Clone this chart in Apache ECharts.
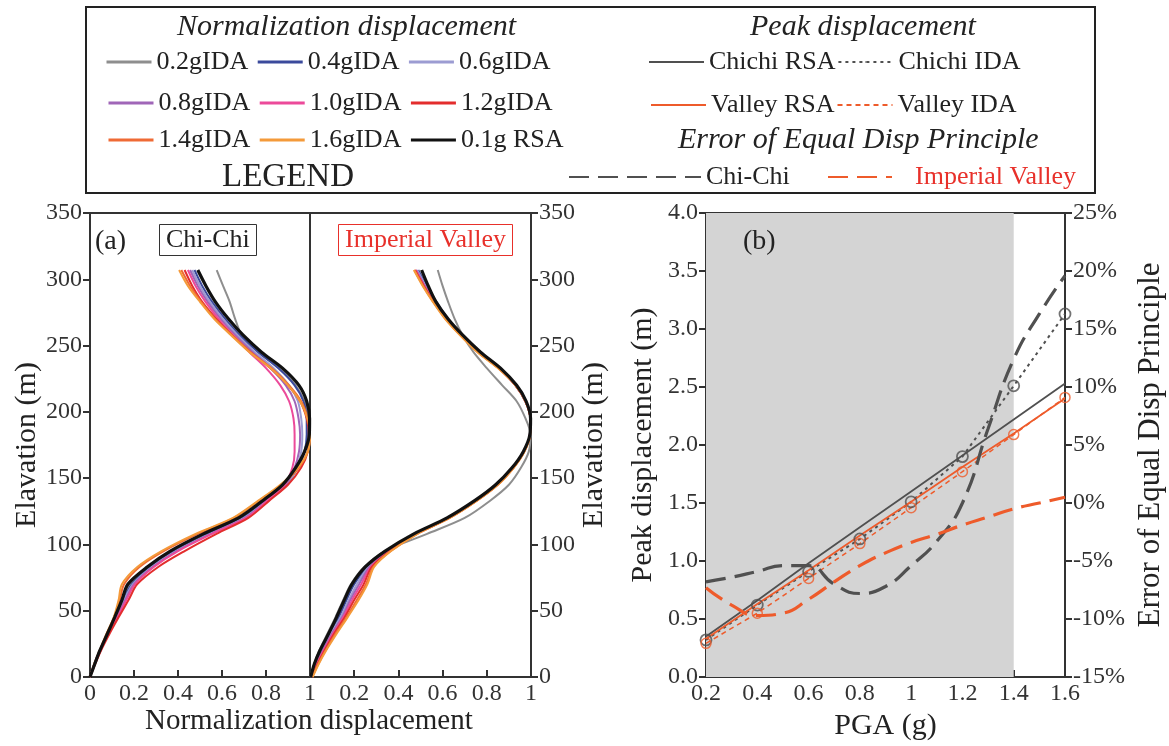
<!DOCTYPE html>
<html><head><meta charset="utf-8">
<script src="https://cdn.jsdelivr.net/npm/echarts@6/dist/echarts.min.js"></script>
<style>html,body{margin:0;padding:0;background:#fff}#c{width:1169px;height:746px}</style>
</head><body><div id="c"></div>
<script>
// ---------- DATA ----------
const elevations = [0, 10, 20, 33, 45, 58, 70, 83, 95, 108, 120, 133, 145, 158, 170, 183, 195, 208, 220, 233, 245, 258, 270, 283, 295, 307];
const curveNames = ['0.2gIDA','0.4gIDA','0.6gIDA','0.8gIDA','1.0gIDA','1.2gIDA','1.4gIDA','1.6gIDA','0.1g RSA'];
const curveColors = ['#8e8e8e','#3b4a9c','#9c9cd2','#a066b8','#ec4a9a','#e32d2d','#ef6a35','#f49a3a','#111111'];

// (a) Chi-Chi normalized displacement, one value per elevation
const cc02 = [0, 0.022, 0.045, 0.08, 0.115, 0.15, 0.18, 0.27, 0.38, 0.535, 0.69, 0.79, 0.88, 0.94, 0.975, 0.99, 0.995, 0.975, 0.935, 0.86, 0.765, 0.69, 0.66, 0.635, 0.605, 0.576];
const cc04 = [0, 0.02, 0.045, 0.08, 0.115, 0.15, 0.19, 0.275, 0.385, 0.54, 0.695, 0.8, 0.89, 0.945, 0.975, 0.985, 0.985, 0.97, 0.93, 0.855, 0.765, 0.68, 0.615, 0.555, 0.51, 0.475];
const cc06 = [0, 0.02, 0.045, 0.082, 0.12, 0.155, 0.195, 0.28, 0.39, 0.545, 0.7, 0.805, 0.895, 0.94, 0.96, 0.965, 0.96, 0.945, 0.905, 0.835, 0.75, 0.67, 0.605, 0.545, 0.5, 0.465];
const cc08 = [0, 0.02, 0.045, 0.082, 0.122, 0.16, 0.2, 0.285, 0.395, 0.55, 0.705, 0.805, 0.89, 0.93, 0.95, 0.955, 0.948, 0.93, 0.89, 0.82, 0.74, 0.66, 0.595, 0.535, 0.49, 0.455];
const cc10 = [0, 0.022, 0.048, 0.085, 0.125, 0.165, 0.205, 0.29, 0.4, 0.555, 0.71, 0.805, 0.885, 0.92, 0.93, 0.93, 0.925, 0.905, 0.865, 0.8, 0.725, 0.65, 0.585, 0.525, 0.48, 0.445];
const cc12 = [0, 0.024, 0.05, 0.09, 0.13, 0.175, 0.215, 0.31, 0.43, 0.575, 0.72, 0.815, 0.9, 0.96, 0.99, 0.995, 0.985, 0.955, 0.9, 0.82, 0.73, 0.645, 0.575, 0.51, 0.465, 0.43];
const cc14 = [0, 0.02, 0.045, 0.078, 0.11, 0.135, 0.155, 0.225, 0.335, 0.49, 0.655, 0.77, 0.87, 0.95, 0.99, 1.0, 0.99, 0.96, 0.905, 0.825, 0.73, 0.645, 0.57, 0.505, 0.455, 0.415];
const cc16 = [0, 0.02, 0.044, 0.076, 0.108, 0.13, 0.145, 0.215, 0.325, 0.48, 0.65, 0.765, 0.865, 0.945, 0.99, 1.0, 0.988, 0.955, 0.9, 0.82, 0.725, 0.64, 0.565, 0.5, 0.445, 0.405];
const ccRSA = [0, 0.022, 0.045, 0.08, 0.112, 0.145, 0.172, 0.26, 0.365, 0.515, 0.675, 0.785, 0.875, 0.935, 0.975, 0.997, 0.998, 0.985, 0.95, 0.875, 0.78, 0.695, 0.63, 0.57, 0.527, 0.49];

// (a) Imperial Valley normalized displacement
const iv02 = [0, 0.02, 0.042, 0.08, 0.115, 0.15, 0.185, 0.245, 0.34, 0.53, 0.7, 0.815, 0.9, 0.955, 0.99, 0.998, 0.975, 0.935, 0.87, 0.8, 0.74, 0.69, 0.655, 0.625, 0.6, 0.578];
const iv04 = [0.005, 0.025, 0.05, 0.09, 0.13, 0.165, 0.2, 0.26, 0.35, 0.475, 0.625, 0.75, 0.845, 0.92, 0.968, 0.995, 0.997, 0.975, 0.93, 0.857, 0.768, 0.688, 0.625, 0.572, 0.528, 0.49];
const iv06 = [0.005, 0.028, 0.055, 0.095, 0.138, 0.175, 0.212, 0.265, 0.355, 0.478, 0.627, 0.752, 0.847, 0.92, 0.968, 0.995, 0.997, 0.975, 0.93, 0.855, 0.766, 0.686, 0.622, 0.568, 0.524, 0.485];
const iv08 = [0.006, 0.03, 0.058, 0.1, 0.145, 0.182, 0.222, 0.27, 0.357, 0.48, 0.628, 0.752, 0.847, 0.92, 0.968, 0.995, 0.997, 0.975, 0.93, 0.855, 0.765, 0.685, 0.62, 0.565, 0.52, 0.48];
const iv10 = [0.007, 0.032, 0.062, 0.105, 0.15, 0.19, 0.232, 0.275, 0.36, 0.482, 0.63, 0.753, 0.848, 0.92, 0.968, 0.995, 0.997, 0.975, 0.93, 0.853, 0.763, 0.683, 0.618, 0.562, 0.517, 0.478];
const iv12 = [0.008, 0.035, 0.066, 0.11, 0.157, 0.2, 0.243, 0.28, 0.362, 0.483, 0.63, 0.753, 0.848, 0.92, 0.968, 0.995, 0.997, 0.975, 0.93, 0.852, 0.762, 0.682, 0.616, 0.56, 0.515, 0.475];
const iv14 = [0.01, 0.038, 0.07, 0.117, 0.165, 0.212, 0.253, 0.287, 0.365, 0.485, 0.632, 0.755, 0.85, 0.922, 0.97, 0.996, 0.997, 0.975, 0.93, 0.852, 0.76, 0.68, 0.614, 0.558, 0.512, 0.472];
const iv16 = [0.012, 0.04, 0.073, 0.122, 0.17, 0.22, 0.26, 0.29, 0.367, 0.486, 0.632, 0.755, 0.85, 0.922, 0.97, 0.996, 0.997, 0.975, 0.93, 0.85, 0.758, 0.678, 0.612, 0.556, 0.51, 0.47];
const ivRSA = [0.003, 0.02, 0.045, 0.085, 0.12, 0.155, 0.19, 0.25, 0.34, 0.47, 0.62, 0.745, 0.84, 0.915, 0.965, 0.995, 0.998, 0.978, 0.935, 0.862, 0.772, 0.69, 0.625, 0.57, 0.535, 0.505];

const chichiCurves = [cc02, cc04, cc06, cc08, cc10, cc12, cc14, cc16, ccRSA];
const valleyCurves = [iv02, iv04, iv06, iv08, iv10, iv12, iv14, iv16, ivRSA];

// (b) Peak displacement (m) vs PGA (g)
const pga = [0.2, 0.4, 0.6, 0.8, 1.0, 1.2, 1.4, 1.6];
const chichiRSA = [0.35, 0.66, 0.98, 1.29, 1.60, 1.91, 2.22, 2.53];
const chichiIDA = [0.32, 0.62, 0.91, 1.19, 1.51, 1.90, 2.51, 3.13];
const valleyRSA = [0.33, 0.63, 0.92, 1.22, 1.51, 1.81, 2.10, 2.40];
const valleyIDA = [0.29, 0.55, 0.85, 1.15, 1.46, 1.77, 2.09, 2.41];

// (b) Error of equal displacement principle (%)
const errPGA = [0.2, 0.3, 0.4, 0.5, 0.6, 0.7, 0.8, 0.9, 1.0, 1.1, 1.2, 1.3, 1.4, 1.5, 1.6];
const errChiChi = [-6.8, -6.4, -5.9, -5.4, -5.4, -7.0, -7.8, -7.2, -5.4, -3.3, 0.0, 6.4, 12.4, 16.3, 19.6];
const errValley = [-7.3, -8.8, -9.7, -9.5, -8.3, -6.8, -5.4, -4.3, -3.4, -2.7, -1.9, -1.2, -0.5, 0.0, 0.5];

const shadeFrom = 0.2, shadeTo = 1.4;

// ---------- CHART ----------
const FONT = "'Liberation Serif','Times New Roman',serif";
const AX = '#333';
const GRAY = '#505050', ORANGE = '#ee5b2b';
const chart = echarts.init(document.getElementById('c'), null, {renderer: 'canvas', width: 1169, height: 746});

function axisBase(extra) {
  return Object.assign({
    type: 'value',
    axisLine: {show: true, onZero: false, lineStyle: {color: AX, width: 2}},
    axisTick: {show: true, length: 7, lineStyle: {color: AX, width: 2}},
    axisLabel: {fontFamily: FONT, fontSize: 24, color: '#333'},
    splitLine: {show: false},
    nameTextStyle: {fontFamily: FONT, fontSize: 30, color: '#222'}
  }, extra);
}

const series = [];
[chichiCurves, valleyCurves].forEach((curves, p) => {
  curves.forEach((ds, k) => {
    series.push({
      type: 'line', name: curveNames[k], xAxisIndex: p, yAxisIndex: p,
      data: ds.map((d, i) => [d, elevations[i]]),
      symbol: 'none', smooth: 0.3,
      lineStyle: {color: curveColors[k], width: k === 8 ? 3.2 : 2},
      itemStyle: {color: curveColors[k]},
      z: 2 + k
    });
  });
});

series.push({
  type: 'line', name: 'Chichi RSA', xAxisIndex: 2, yAxisIndex: 2,
  data: pga.map((x, i) => [x, chichiRSA[i]]), symbol: 'none',
  lineStyle: {color: GRAY, width: 1.8}, itemStyle: {color: GRAY}, z: 3,
  markArea: {silent: true, itemStyle: {color: '#d4d4d4'}, data: [[{xAxis: shadeFrom}, {xAxis: shadeTo}]]}
});
series.push({
  type: 'line', name: 'Chichi IDA', xAxisIndex: 2, yAxisIndex: 2,
  data: pga.map((x, i) => [x, chichiIDA[i]]), symbol: 'none',
  lineStyle: {color: GRAY, width: 2, type: [3, 4]}, itemStyle: {color: GRAY}, z: 3
});
series.push({
  type: 'scatter', name: 'Chichi IDA', xAxisIndex: 2, yAxisIndex: 2,
  data: pga.map((x, i) => [x, chichiIDA[i]]), symbol: 'circle', symbolSize: 11,
  itemStyle: {color: 'transparent', borderColor: GRAY, borderWidth: 1.8}, z: 4
});
series.push({
  type: 'line', name: 'Valley RSA', xAxisIndex: 2, yAxisIndex: 2,
  data: pga.map((x, i) => [x, valleyRSA[i]]), symbol: 'none',
  lineStyle: {color: ORANGE, width: 1.8}, itemStyle: {color: ORANGE}, z: 3
});
series.push({
  type: 'line', name: 'Valley IDA', xAxisIndex: 2, yAxisIndex: 2,
  data: pga.map((x, i) => [x, valleyIDA[i]]), symbol: 'none',
  lineStyle: {color: ORANGE, width: 1.5, type: [5, 4]}, itemStyle: {color: ORANGE}, z: 3
});
series.push({
  type: 'scatter', name: 'Valley IDA', xAxisIndex: 2, yAxisIndex: 2,
  data: pga.map((x, i) => [x, valleyIDA[i]]), symbol: 'circle', symbolSize: 10,
  itemStyle: {color: 'transparent', borderColor: ORANGE, borderWidth: 1.5}, z: 4
});
series.push({
  type: 'line', name: 'Chi-Chi', xAxisIndex: 2, yAxisIndex: 3,
  data: errPGA.map((x, i) => [x, errChiChi[i]]), symbol: 'none', smooth: 0.5,
  lineStyle: {color: GRAY, width: 3.2, type: [20, 9]}, itemStyle: {color: GRAY}, z: 5
});
series.push({
  type: 'line', name: 'Imperial Valley', xAxisIndex: 2, yAxisIndex: 3,
  data: errPGA.map((x, i) => [x, errValley[i]]), symbol: 'none', smooth: 0.5,
  lineStyle: {color: ORANGE, width: 3.2, type: [20, 9]}, itemStyle: {color: ORANGE}, z: 5
});

const legendText = {fontFamily: FONT, fontSize: 26, color: '#222'};
function leg(data, left, top, itemWidth, itemGap, extra) {
  return Object.assign({data, left, top, itemWidth, itemHeight: 2, itemGap, padding: 0,
    textStyle: legendText, selectedMode: false}, extra || {});
}

const titleStyle = (size, extra) => Object.assign({fontFamily: FONT, fontSize: size, color: '#222', fontWeight: 'normal'}, extra || {});
const gridBase = {show: true, borderColor: AX, borderWidth: 2, backgroundColor: 'transparent', containLabel: false, outerBoundsMode: 'none'};

const option = {
  animation: false,
  backgroundColor: '#fff',
  graphic: [{type: 'rect', shape: {x: 86, y: 7, width: 1009, height: 186},
    style: {fill: 'none', stroke: '#222', lineWidth: 2}, silent: true}],
  title: [
    {text: 'Normalization displacement', left: 177, top: 12, padding: 0, textStyle: titleStyle(30, {fontStyle: 'italic'})},
    {text: 'Peak displacement', left: 750, top: 12, padding: 0, textStyle: titleStyle(30, {fontStyle: 'italic'})},
    {text: 'Error of Equal Disp Principle', left: 678, top: 125, padding: 0, textStyle: titleStyle(30, {fontStyle: 'italic'})},
    {text: 'LEGEND', left: 222, top: 161, padding: 0, textStyle: titleStyle(33)},
    {text: '(a)', left: 95, top: 228, padding: 0, textStyle: titleStyle(28)},
    {text: 'Chi-Chi', left: 159, top: 224, padding: [3, 7], borderColor: '#333', borderWidth: 1, textStyle: titleStyle(26)},
    {text: 'Imperial Valley', left: 338, top: 224, padding: [3, 7], borderColor: '#e8302a', borderWidth: 1, textStyle: titleStyle(26, {color: '#e8302a'})},
    {text: '(b)', left: 743, top: 228, padding: 0, textStyle: titleStyle(28)},
    {text: 'Normalization displacement', left: 145, top: 707, padding: 0, textStyle: titleStyle(29)}
  ],
  legend: [
    leg(['0.2gIDA', '0.4gIDA', '0.6gIDA'], 105, 49, 45, 8, {lineStyle: {width: 3}}),
    leg(['0.8gIDA', '1.0gIDA', '1.2gIDA'], 107, 90, 45, 8, {lineStyle: {width: 3}}),
    leg(['1.4gIDA', '1.6gIDA', '0.1g RSA'], 107, 127, 45, 8, {lineStyle: {width: 3}}),
    leg(['Chichi RSA', 'Chichi IDA'], 648, 49, 55, 2),
    leg(['Valley RSA', 'Valley IDA'], 650, 92, 55, 2),
    leg(['Chi-Chi'], 568, 164, 132, 5),
    leg([{name: 'Imperial Valley', textStyle: {color: '#e8302a', padding: [0, 0, 0, 18]}}], 827, 164, 64, 5)
  ],
  grid: [
    Object.assign({left: 90, top: 213, width: 220, height: 464}, gridBase),
    Object.assign({left: 310, top: 213, width: 221, height: 464}, gridBase),
    Object.assign({left: 706, top: 213, width: 359, height: 464}, gridBase)
  ],
  xAxis: [
    axisBase({gridIndex: 0, min: 0, max: 1, interval: 0.2, axisTick: {inside: true, length: 7, lineStyle: {color: AX, width: 2}},
      axisLabel: {fontFamily: FONT, fontSize: 24, color: '#333', margin: 5}}),
    axisBase({gridIndex: 1, min: 0, max: 1, interval: 0.2, axisTick: {inside: true, length: 7, lineStyle: {color: AX, width: 2}},
      axisLabel: {fontFamily: FONT, fontSize: 24, color: '#333', margin: 5, formatter: v => v === 0 ? '' : String(v)}}),
    axisBase({gridIndex: 2, min: 0.2, max: 1.6, interval: 0.2, axisTick: {inside: true, length: 7, lineStyle: {color: AX, width: 2}},
      axisLabel: {fontFamily: FONT, fontSize: 24, color: '#333', margin: 5},
      name: 'PGA (g)', nameLocation: 'middle', nameGap: 30})
  ],
  yAxis: [
    axisBase({gridIndex: 0, min: 0, max: 350, interval: 50, position: 'left',
      name: 'Elavation (m)', nameLocation: 'middle', nameGap: 43, nameRotate: 90}),
    axisBase({gridIndex: 1, min: 0, max: 350, interval: 50, position: 'right',
      name: 'Elavation (m)', nameLocation: 'middle', nameGap: 27, nameRotate: 90}),
    axisBase({gridIndex: 2, min: 0, max: 4, interval: 0.5, position: 'left',
      axisLabel: {fontFamily: FONT, fontSize: 24, color: '#333', formatter: v => v.toFixed(1)},
      name: 'Peak displacement (m)', nameLocation: 'middle', nameGap: 48, nameRotate: 90}),
    axisBase({gridIndex: 2, min: -15, max: 25, interval: 5, position: 'right',
      axisLabel: {fontFamily: FONT, fontSize: 24, color: '#333', formatter: v => v + '%'},
      name: 'Error of Equal Disp Principle', nameLocation: 'middle', nameGap: 70, nameRotate: 90,
      nameTextStyle: {fontFamily: FONT, fontSize: 31, color: '#222'}})
  ],
  series
};
chart.setOption(option);
</script></body></html>
